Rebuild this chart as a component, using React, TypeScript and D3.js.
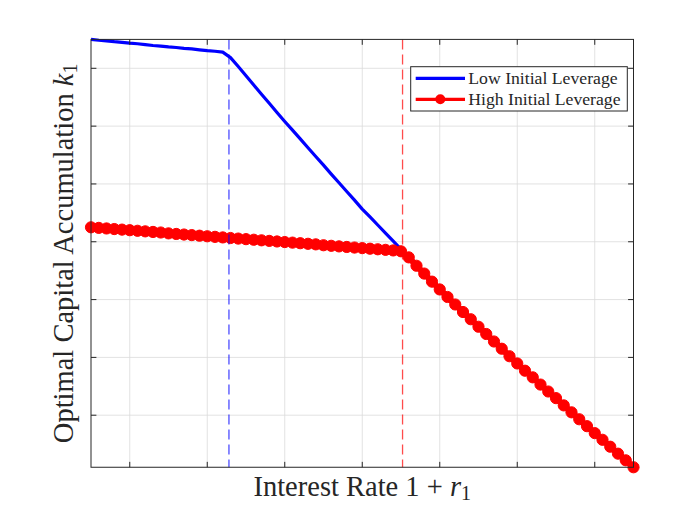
import * as d3 from "d3";

// chart size (MATLAB default axes position, figure scaled to 700x525)
const W = 700,
	H = 525;
const left = 91,
	right = 633.5,
	top = 39.4,
	bottom = 467.25;

// interest rate grid 1 + r1
const rates = [
	1.005, 1.006, 1.007, 1.008, 1.009, 1.01, 1.011, 1.012, 1.013, 1.014,
	1.015, 1.016, 1.017, 1.018, 1.019, 1.02, 1.021, 1.022, 1.023, 1.024,
	1.025, 1.026, 1.027, 1.028, 1.029, 1.03, 1.031, 1.032, 1.033, 1.034,
	1.035, 1.036, 1.037, 1.038, 1.039, 1.04, 1.041, 1.042, 1.043, 1.044,
	1.045, 1.046, 1.047, 1.048, 1.049, 1.05, 1.051, 1.052, 1.053, 1.054,
	1.055, 1.056, 1.057, 1.058, 1.059, 1.06, 1.061, 1.062, 1.063, 1.064,
	1.065, 1.066, 1.067, 1.068, 1.069, 1.07, 1.071, 1.072, 1.073, 1.074,
	1.075,
];

// optimal k1, low initial leverage
const lowLev = [
	1.7, 1.697, 1.695, 1.692, 1.69, 1.687, 1.685, 1.682, 1.679, 1.677,
	1.674, 1.672, 1.669, 1.667, 1.664, 1.661, 1.659, 1.656, 1.637, 1.606,
	1.574, 1.542, 1.51, 1.479, 1.447, 1.416, 1.386, 1.356, 1.325, 1.295,
	1.265, 1.234, 1.204, 1.174, 1.144, 1.113, 1.086, 1.058, 1.03, 1.002,
	0.974, 0.946, 0.917, 0.89, 0.862, 0.835, 0.809, 0.783, 0.757, 0.732,
	0.706, 0.681, 0.655, 0.63, 0.604, 0.579, 0.554, 0.531, 0.506, 0.482,
	0.459, 0.434, 0.41, 0.386, 0.362, 0.338, 0.315, 0.291, 0.267, 0.244,
	0.22,
];

// optimal k1, high initial leverage
const highLev = [
	1.05, 1.048, 1.046, 1.044, 1.042, 1.04, 1.038, 1.036, 1.034, 1.032,
	1.029, 1.027, 1.025, 1.023, 1.021, 1.019, 1.017, 1.015, 1.013, 1.011,
	1.009, 1.007, 1.005, 1.003, 1.001, 0.999, 0.997, 0.995, 0.993, 0.991,
	0.988, 0.986, 0.984, 0.982, 0.98, 0.978, 0.976, 0.974, 0.972, 0.97,
	0.967, 0.946, 0.917, 0.89, 0.862, 0.835, 0.809, 0.783, 0.757, 0.732,
	0.706, 0.681, 0.655, 0.63, 0.604, 0.579, 0.554, 0.531, 0.506, 0.482,
	0.459, 0.434, 0.41, 0.386, 0.362, 0.338, 0.315, 0.291, 0.267, 0.244,
	0.22,
];

// thresholds (xline)
const thresholds = [1.0228, 1.0452];
const thresholdColors = ["#0000ff", "#ff0000"];

const xTicks = [1.01, 1.02, 1.03, 1.04, 1.05, 1.06, 1.07];
const yTicks = [0.4, 0.6, 0.8, 1.0, 1.2, 1.4, 1.6];

const legendLabels = ["Low Initial Leverage", "High Initial Leverage"];

const serif = "'Liberation Serif', 'DejaVu Serif', serif";
const axisColor = "#262626";
const gridColor = "#dadada";
const tickLen = 5.4;
const markerR = 5.6;

export default function App() {
	const x = d3.scaleLinear().domain([1.005, 1.075]).range([left, right]);
	const y = d3.scaleLinear().domain([0.22, 1.7]).range([bottom, top]);

	const line = d3
		.line<number>()
		.x((_, i) => x(rates[i]))
		.y((d) => y(d));

	return (
		<svg width={W} height={H} style={{ position: "absolute", left: 0, top: 0, background: "#fff" }}>
			<rect x={0} y={0} width={W} height={H} fill="#fff" />

			{/* grid */}
			<g stroke={gridColor} strokeWidth={0.8}>
				{xTicks.map((t) => (
					<line key={"gx" + t} x1={x(t)} x2={x(t)} y1={top} y2={bottom} />
				))}
				{yTicks.map((t) => (
					<line key={"gy" + t} x1={left} x2={right} y1={y(t)} y2={y(t)} />
				))}
			</g>

			{/* data */}
			<path d={line(lowLev) || ""} fill="none" stroke="#0000ff" strokeWidth={3.2} strokeLinejoin="round" />
			<path d={line(highLev) || ""} fill="none" stroke="#ff0000" strokeWidth={6} strokeLinejoin="round" />
			<g fill="#ff0000" stroke="#ff0000" strokeWidth={1}>
				{highLev.map((d, i) => (
					<circle key={i} cx={x(rates[i])} cy={y(d)} r={markerR} />
				))}
			</g>

			{/* threshold lines */}
			{thresholds.map((t, i) => (
				<line
					key={"th" + i}
					x1={x(t)}
					x2={x(t)}
					y1={top}
					y2={bottom}
					stroke={thresholdColors[i]}
					strokeOpacity={0.7}
					strokeWidth={1.3}
					strokeDasharray="10,5"
				/>
			))}

			{/* axes box and ticks */}
			<g stroke={axisColor} strokeWidth={1} fill="none">
				<rect x={left} y={top} width={right - left} height={bottom - top} />
				{xTicks.map((t) => (
					<g key={"tx" + t}>
						<line x1={x(t)} x2={x(t)} y1={bottom} y2={bottom - tickLen} />
						<line x1={x(t)} x2={x(t)} y1={top} y2={top + tickLen} />
					</g>
				))}
				{yTicks.map((t) => (
					<g key={"ty" + t}>
						<line x1={left} x2={left + tickLen} y1={y(t)} y2={y(t)} />
						<line x1={right} x2={right - tickLen} y1={y(t)} y2={y(t)} />
					</g>
				))}
			</g>

			{/* axis labels */}
			<text x={(left + right) / 2} y={496} textAnchor="middle" fontFamily={serif} fontSize={28.5} fill={axisColor}>
				Interest Rate 1 + <tspan fontStyle="italic">r</tspan>
				<tspan fontSize={20} dy={4}>1</tspan>
			</text>
			<text
				transform={`translate(73, ${(top + bottom) / 2}) rotate(-90)`}
				textAnchor="middle"
				fontFamily={serif}
				fontSize={28.5}
				fill={axisColor}
			>
				Optimal Capital Accumulation <tspan fontStyle="italic">k</tspan>
				<tspan fontSize={20} dy={4}>1</tspan>
			</text>

			{/* legend */}
			<g>
				<rect x={410.7} y={66.7} width={216.6} height={44.3} fill="#fff" stroke={axisColor} strokeWidth={1} />
				{legendLabels.map((lab, i) => {
					const ly = 78.3 + i * 21;
					const c = i === 0 ? "#0000ff" : "#ff0000";
					return (
						<g key={lab}>
							<line x1={415.7} x2={465} y1={ly} y2={ly} stroke={c} strokeWidth={3.2} />
							{i === 1 && <circle cx={440.3} cy={ly} r={5} fill={c} />}
							<text x={468.3} y={ly + 5.5} fontFamily={serif} fontSize={17.7} fill={axisColor}>
								{lab}
							</text>
						</g>
					);
				})}
			</g>
		</svg>
	);
}
